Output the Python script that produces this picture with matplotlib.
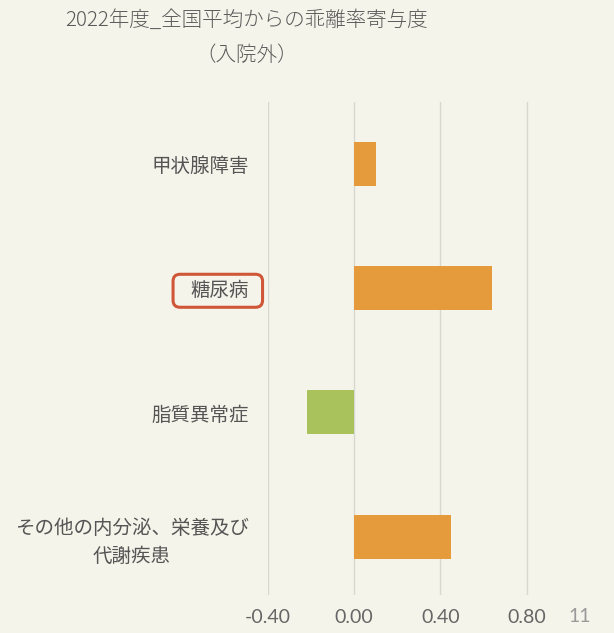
import matplotlib.pyplot as plt
from matplotlib.patches import FancyBboxPatch

plt.rcParams['font.family'] = ['Noto Sans CJK JP', 'DejaVu Sans']

categories = ["甲状腺障害", "糖尿病", "脂質異常症", "その他の内分泌、栄養及び\n代謝疾患"]
values = [0.10, 0.64, -0.22, 0.45]
bar_colors = ["#e59b3c", "#e59b3c", "#a9c25b", "#e59b3c"]
xticks = [-0.40, 0.00, 0.40, 0.80]
xtick_labels = ["-0.40", "0.00", "0.40", "0.80"]

bg = "#f5f4ea"
fig = plt.figure(figsize=(6.14, 6.33), dpi=100, facecolor=bg)
W, H = 614, 633
ax = fig.add_axes([268 / W, 1 - 595 / H, (614 - 268) / W, (595 - 102) / H])
ax.set_facecolor(bg)

ypos = list(range(len(categories)))
ax.barh(ypos, values, height=0.355, color=bar_colors, zorder=3)

ax.set_xlim(-0.40, 1.205)
ax.set_ylim(3.47, -0.5)
ax.set_xticks(xticks)
ax.set_xticklabels(xtick_labels, family=['Lato', 'DejaVu Sans'], fontsize=14, color="#666666")
ax.set_yticks(ypos)
ax.set_yticklabels(categories, fontsize=14, color="#555555", linespacing=1.4)
for lab in ax.get_yticklabels():
    lab.set_multialignment('center')
ax.tick_params(axis='both', length=0)
ax.tick_params(axis='y', pad=14)
ax.tick_params(axis='x', pad=10)
for s in ax.spines.values():
    s.set_visible(False)
for x in xticks:
    ax.axvline(x, color="#d8d8d2", lw=1.0, zorder=1)

fig.text(247 / W, 1 - 20 / H, "2022年度_全国平均からの乖離率寄与度", ha='center', va='center',
         fontsize=14.8, color="#5a5a5a", fontweight='light')
fig.text(247 / W, 1 - 55 / H, "（入院外）", ha='center', va='center', fontsize=14.8,
         color="#5a5a5a", fontweight='light')
fig.text(580 / W, 1 - 616 / H, "11", ha='center', va='center', fontsize=14,
         family=['Lato', 'DejaVu Sans'], color="#9a9a9a")

# highlight box around 糖尿病 label
fig.canvas.draw()
bb = ax.get_yticklabels()[1].get_window_extent()
box = FancyBboxPatch((bb.x0 - 17, bb.y0 - 6), bb.width + 31, bb.height + 12,
                     boxstyle="round,pad=0,rounding_size=7", transform=None,
                     fill=False, edgecolor="#cf5637", lw=2.2)
fig.patches.append(box)

fig.savefig("out.png", dpi=100, facecolor=bg)
